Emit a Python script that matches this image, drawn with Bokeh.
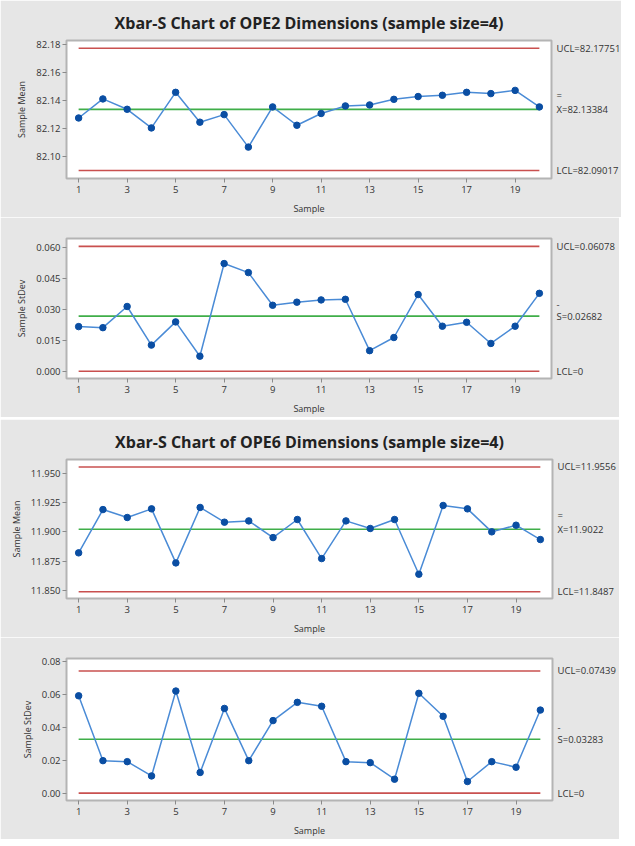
from bokeh.plotting import figure
from bokeh.layouts import column
from bokeh.models import Range1d, FixedTicker, NumeralTickFormatter, LinearAxis, Spacer
from bokeh.embed import file_html
from bokeh.resources import INLINE

# ---------------- data ----------------
samples = list(range(1, 21))
x_ticks = [1, 3, 5, 7, 9, 11, 13, 15, 17, 19]

ope2_mean = [82.1277, 82.1413, 82.1339, 82.1206, 82.1460, 82.1247, 82.1301, 82.1069, 82.1356, 82.1225,
             82.1309, 82.1363, 82.1370, 82.1410, 82.1430, 82.1439, 82.1460, 82.1451, 82.1474, 82.1356]
ope2_sd = [0.0217, 0.0212, 0.0315, 0.0127, 0.0240, 0.0073, 0.0524, 0.0480, 0.0321, 0.0336,
           0.0347, 0.0350, 0.0100, 0.0164, 0.0373, 0.0219, 0.0238, 0.0135, 0.0219, 0.0379]
ope6_mean = [11.8820, 11.9191, 11.9123, 11.9197, 11.8734, 11.9209, 11.9083, 11.9094, 11.8951, 11.9106,
             11.8771, 11.9094, 11.9029, 11.9106, 11.8637, 11.9226, 11.9197, 11.9000, 11.9057, 11.8934]
ope6_sd = [0.0593, 0.0198, 0.0192, 0.0105, 0.0622, 0.0126, 0.0516, 0.0198, 0.0442, 0.0553,
           0.0529, 0.0192, 0.0186, 0.0085, 0.0608, 0.0468, 0.0071, 0.0192, 0.0158, 0.0506]

# control limits (LCL, center, UCL)
ope2_mean_limits = [82.09017, 82.13384, 82.17751]
ope2_sd_limits = [0.0, 0.02682, 0.06078]
ope6_mean_limits = [11.8487, 11.9022, 11.9556]
ope6_sd_limits = [0.0, 0.03283, 0.07439]

ope2_mean_labels = ["LCL=82.09017", "X=82.13384", "UCL=82.17751"]
ope2_sd_labels = ["LCL=0", "S=0.02682", "UCL=0.06078"]
ope6_mean_labels = ["LCL=11.8487", "X=11.9022", "UCL=11.9556"]
ope6_sd_labels = ["LCL=0", "S=0.03283", "UCL=0.07439"]

ope2_mean_ticks = [82.10, 82.12, 82.14, 82.16, 82.18]
ope2_sd_ticks = [0.0, 0.015, 0.030, 0.045, 0.060]
ope6_mean_ticks = [11.850, 11.875, 11.900, 11.925, 11.950]
ope6_sd_ticks = [0.0, 0.02, 0.04, 0.06, 0.08]

title_ope2 = "Xbar-S Chart of OPE2 Dimensions (sample size=4)"
title_ope6 = "Xbar-S Chart of OPE6 Dimensions (sample size=4)"

# ---------------- style ----------------
FONT = "Open Sans"
BG = "#e6e6e6"
RED = "#c9504f"
GREEN = "#3fae49"
BLUE_LINE = "#4a8bd6"
BLUE_PT = "#0a4ea3"
TXT = "#333333"
W = 619
FS = "9.5px"


def style_axis(ax):
    ax.axis_line_color = None
    ax.major_tick_line_color = "#8a8a8a"
    ax.major_tick_out = 4
    ax.major_tick_in = 0
    ax.minor_tick_line_color = None
    ax.major_label_text_font = FONT
    ax.major_label_text_font_size = FS
    ax.major_label_text_color = TXT
    ax.axis_label_text_font = FONT
    ax.axis_label_text_font_size = "9px"
    ax.axis_label_text_font_style = "normal"
    ax.axis_label_text_color = TXT


def panel(values, limits, labels, yrange, yticks, fmt, ylabel, bar_sym, bar_px,
          left, frame_w, frame_h, top, bottom, title=None):
    p = figure(width=W, height=top + frame_h + bottom,
               frame_width=frame_w, frame_height=frame_h,
               x_range=Range1d(0.5, 20.5), y_range=Range1d(*yrange),
               output_backend="svg", toolbar_location=None,
               min_border_left=left, min_border_right=W - left - frame_w,
               min_border_top=top, min_border_bottom=bottom)
    p.border_fill_color = BG
    p.background_fill_color = "white"
    p.outline_line_color = "#b4b4b4"
    p.outline_line_width = 2
    p.grid.visible = False
    if title:
        p.title.text = title
        p.title.align = "center"
        p.title.text_font = FONT
        p.title.text_font_size = "16px"
        p.title.text_font_style = "bold"
        p.title.text_color = "#222222"
        p.title.standoff = 13
        p.title.offset = 8

    style_axis(p.xaxis[0])
    style_axis(p.yaxis[0])
    p.xaxis.ticker = FixedTicker(ticks=x_ticks)
    p.xaxis.axis_label = "Sample"
    p.xaxis.major_label_standoff = 3
    p.xaxis.axis_label_standoff = 6
    p.yaxis.ticker = FixedTicker(ticks=yticks)
    p.yaxis.formatter = NumeralTickFormatter(format=fmt)
    p.yaxis.axis_label = ylabel
    p.yaxis.major_label_standoff = 2
    p.yaxis.axis_label_standoff = 5

    xs = [samples[0], samples[-1]]
    lcl, ctr, ucl = limits
    p.line(xs, [ucl, ucl], line_color=RED, line_width=1.6)
    p.line(xs, [lcl, lcl], line_color=RED, line_width=1.6)
    p.line(xs, [ctr, ctr], line_color=GREEN, line_width=1.6)
    p.line(samples, values, line_color=BLUE_LINE, line_width=1.5)
    p.scatter(samples, values, size=6.5, fill_color=BLUE_PT, line_color=BLUE_PT)

    # right-hand limit labels, drawn as a tick-less right axis
    bar_pos = ctr + bar_px * (yrange[1] - yrange[0]) / frame_h
    overrides = {float(v): t for v, t in zip(limits, labels)}
    overrides[float(bar_pos)] = bar_sym
    rax = LinearAxis(ticker=FixedTicker(ticks=list(overrides.keys())),
                     major_label_overrides=overrides)
    style_axis(rax)
    rax.major_tick_out = 0
    rax.major_label_standoff = 5
    p.add_layout(rax, "right")
    return p


pA = panel(ope2_mean, ope2_mean_limits, ope2_mean_labels, (82.0845, 82.183), ope2_mean_ticks,
           "0.00", "Sample Mean", "=", 14, 64, 485, 138, 40, 36, title_ope2)
pB = panel(ope2_sd, ope2_sd_limits, ope2_sd_labels, (-0.00356, 0.0646), ope2_sd_ticks,
           "0.000", "Sample StDev", "-", 12, 64, 485, 140, 21, 37)
pC = panel(ope6_mean, ope6_mean_limits, ope6_mean_labels, (11.8429, 11.962), ope6_mean_ticks,
           "0.000", "Sample Mean", "=", 14, 66, 486, 139, 40, 36, title_ope6)
pD = panel(ope6_sd, ope6_sd_limits, ope6_sd_labels, (-0.00446, 0.082), ope6_sd_ticks,
           "0.00", "Sample StDev", "-", 12, 66, 486, 142, 21, 36)

layout = column(pA, pB, Spacer(width=W, height=2), pC, pD, spacing=0)

open("out.html", "w").write(file_html(layout, INLINE))
